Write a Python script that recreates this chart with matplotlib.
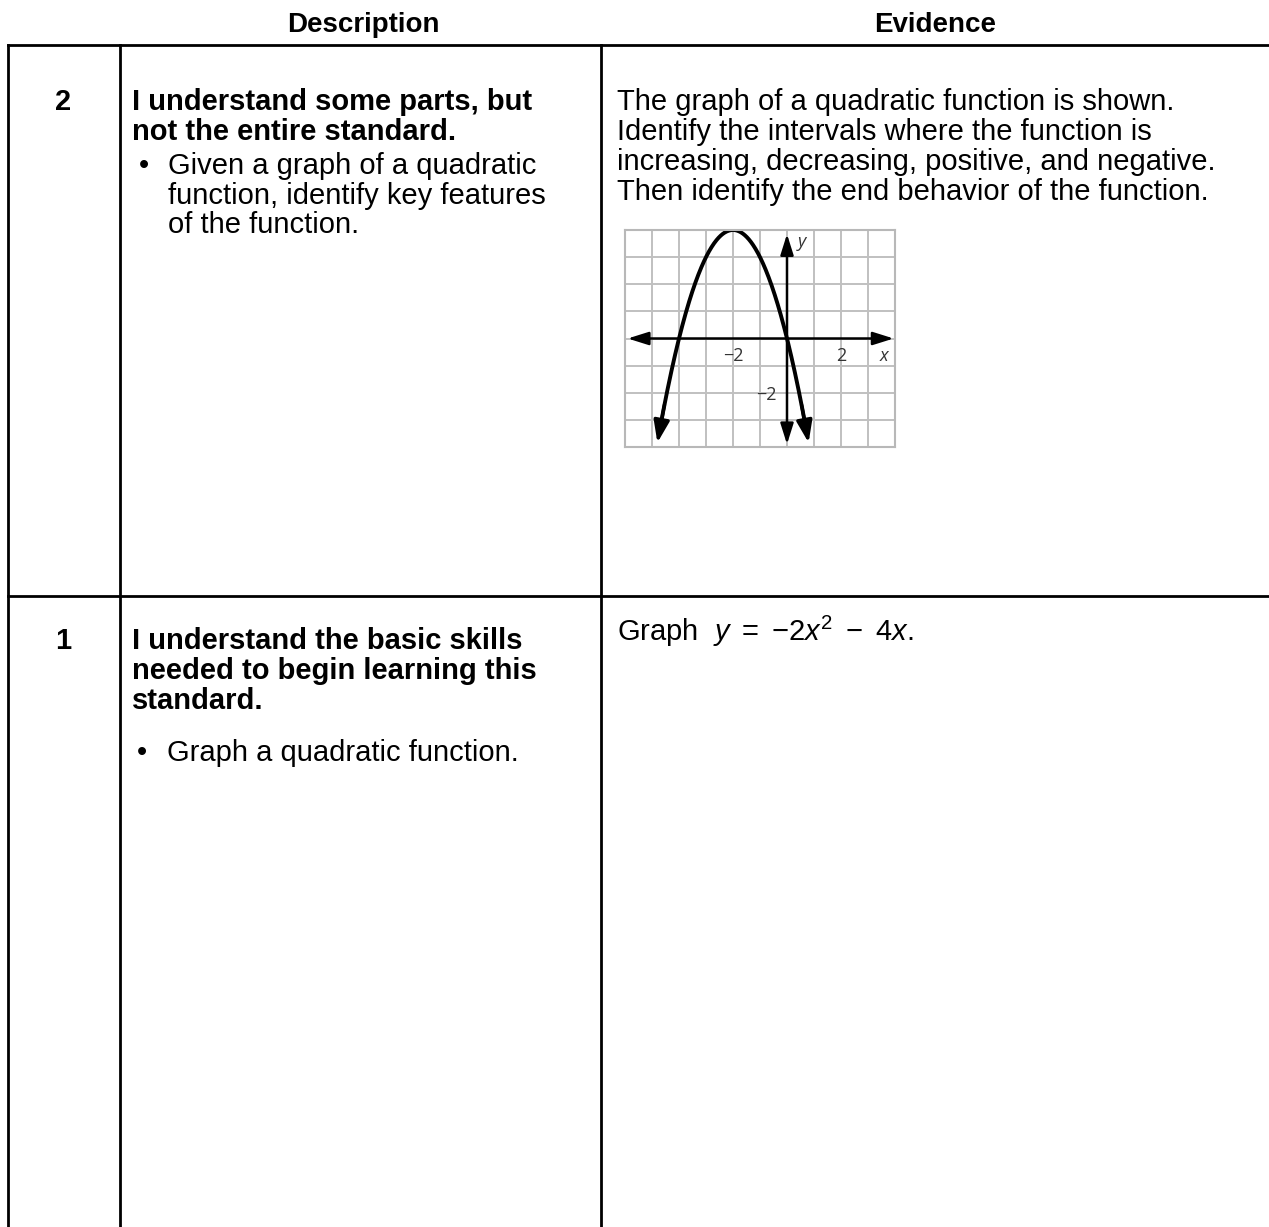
import numpy as np
import matplotlib
matplotlib.use("Agg")
import matplotlib.pyplot as plt

plt.rcParams['font.family'] = ['Liberation Sans', 'DejaVu Sans']
plt.rcParams['mathtext.fontset'] = 'custom'
plt.rcParams['mathtext.rm'] = 'Liberation Sans'
plt.rcParams['mathtext.it'] = 'Liberation Sans:italic'

# table content
headers = ["Description", "Evidence"]
levels = ["2", "1"]
titles = [["I understand some parts, but", "not the entire standard."],
          ["I understand the basic skills", "needed to begin learning this", "standard."]]
bullets = [["Given a graph of a quadratic", "function, identify key features", "of the function."],
           ["Graph a quadratic function."]]
evidence = [["The graph of a quadratic function is shown.",
             "Identify the intervals where the function is",
             "increasing, decreasing, positive, and negative.",
             "Then identify the end behavior of the function."],
            [r"Graph  $y\ =\ {-}2x^2\ -\ 4x$."]]

# quadratic shown in the small graph: y = a*x^2 + b*x + c
coef = [-1, -4, 0]
x_start, x_end = -4.8, 0.8
x_ticks = [-2, 2]
y_ticks = [-2]

W, H = 1269, 1227
fig = plt.figure(figsize=(W / 100, H / 100), dpi=100)
ax = fig.add_axes([0, 0, 1, 1])
ax.set_xlim(0, W)
ax.set_ylim(H, 0)
ax.axis('off')

fs = 21
lw = 2

# headers
ax.text(363, 32, headers[0], ha='center', va='baseline', fontsize=20, fontweight='bold')
ax.text(935, 32, headers[1], ha='center', va='baseline', fontsize=20, fontweight='bold')

# grid lines of the table
ax.plot([8, W], [45, 45], color='black', lw=lw)
ax.plot([8, W], [596, 596], color='black', lw=lw)
for xl in [8, 120, 601]:
    ax.plot([xl, xl], [45, H], color='black', lw=lw)

row_top = [110, 649]
bullet_top = [174, 761]
bullet_x = [144, 142]
bullet_tx = [168, 167]
ev_top = [110, 641]
step = 29.5

for i in range(2):
    ax.text(63, row_top[i], levels[i], ha='center', va='baseline', fontsize=fs, fontweight='bold')
    for j, line in enumerate(titles[i]):
        ax.text(132, row_top[i] + j * 30, line, va='baseline', fontsize=fs, fontweight='bold')
    ax.text(bullet_x[i], bullet_top[i], "\u2022", ha='center', va='baseline', fontsize=fs)
    for j, line in enumerate(bullets[i]):
        ax.text(bullet_tx[i], bullet_top[i] + j * step, line, va='baseline', fontsize=fs)
    for j, line in enumerate(evidence[i]):
        ax.text(617, ev_top[i] + j * 30, line, va='baseline', fontsize=fs)

# small graph of the quadratic
gx0, gy0, gw, gh = 625, 230, 270, 217
g = fig.add_axes([gx0 / W, 1 - (gy0 + gh) / H, gw / W, gh / H])
g.set_xlim(-6, 4)
g.set_ylim(-4, 4)
for s in g.spines.values():
    s.set_color('#b8b8b8')
    s.set_linewidth(1.5)
g.set_xticks([])
g.set_yticks([])
for v in range(-5, 4):
    g.axvline(v, color='#c0c0c0', lw=1.4, zorder=0)
for v in range(-3, 4):
    g.axhline(v, color='#c0c0c0', lw=1.4, zorder=0)

arrow = dict(arrowstyle='<|-|>,head_length=0.7,head_width=0.22', color='black', lw=1.8,
             mutation_scale=18, shrinkA=0, shrinkB=0)
g.annotate('', xy=(-5.9, 0), xytext=(3.95, 0), arrowprops=arrow)
g.annotate('', xy=(0, -3.9), xytext=(0, 3.85), arrowprops=arrow)

xs = np.linspace(x_start, x_end, 300)
ys = np.polyval(coef, xs)
g.plot(xs[4:-4], ys[4:-4], color='black', lw=2.8, solid_capstyle='butt')
head = dict(arrowstyle='-|>,head_length=0.7,head_width=0.25', color='black', lw=2.4,
            mutation_scale=19, shrinkA=0, shrinkB=0)
g.annotate('', xy=(xs[0], ys[0]), xytext=(xs[14], ys[14]), arrowprops=head)
g.annotate('', xy=(xs[-1], ys[-1]), xytext=(xs[-15], ys[-15]), arrowprops=head)

lab = dict(fontsize=13, color='#333333', family=['Open Sans', 'DejaVu Sans'])
for t in x_ticks:
    g.text(t, -0.63, "\u2212" + str(abs(t)) if t < 0 else str(t), ha='center', va='center', **lab)
for t in y_ticks:
    g.text(-0.78, t - 0.1, "\u2212" + str(abs(t)), ha='center', va='center', **lab)
g.text(3.6, -0.63, "x", ha='center', va='center', style='italic', **lab)
g.text(0.56, 3.56, "y", ha='center', va='center', style='italic', **lab)

fig.savefig("out.png", dpi=100)
